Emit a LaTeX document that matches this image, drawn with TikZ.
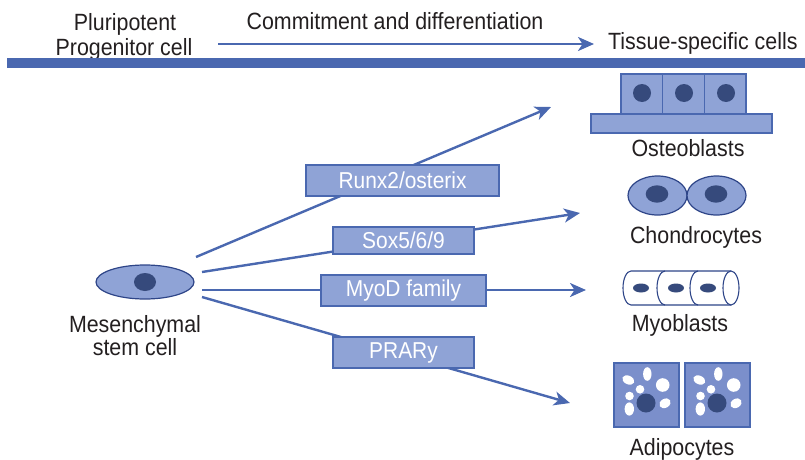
\documentclass[tikz,border=0pt]{standalone}
\usepackage{fontspec}
\setmainfont{Liberation Sans}[FakeStretch=0.91]
\usetikzlibrary{arrows.meta,shapes.geometric}

\definecolor{flowblue}{HTML}{4A68B0}
\definecolor{boxfill}{HTML}{8FA3D6}
\definecolor{cellfill}{HTML}{8FA3D6}
\definecolor{cellline}{HTML}{2E4588}
\definecolor{nucleus}{HTML}{364A7C}
\definecolor{fatfill}{HTML}{7B8FCB}
\definecolor{inktext}{HTML}{231F20}

\tikzset{
  flow/.style={draw=flowblue, line width=2.4pt,
    -{Stealth[length=16pt,width=14pt,inset=4.5pt]}},
  factor/.style={draw=flowblue, fill=boxfill, line width=1.2pt,
    text=white, inner sep=0pt, font=\fontsize{23}{24}\selectfont},
  caption/.style={text=inktext, inner sep=0pt, anchor=base,
    font=\fontsize{23.5}{22}\selectfont, align=center},
  nuc/.style={fill=nucleus, draw=none},
  adipo/.pic={
    \draw[fill=fatfill, draw=flowblue, line width=1.6pt] (0,0) rectangle (65,64);
    \fill[white] (14.3,17) ellipse [x radius=6.3, y radius=4.3, rotate=-25];
    \fill[white] (33.3,11) ellipse [x radius=4.2, y radius=6.8];
    \fill[white] (48.7,22) circle [radius=6.8];
    \fill[white] (26,26.3) circle [radius=4.3];
    \fill[white] (15.5,33) circle [radius=4.3];
    \fill[white] (15.3,46) ellipse [x radius=4.7, y radius=6.6];
    \fill[white] (51,40.3) ellipse [x radius=6, y radius=4.5, rotate=30];
    \fill[nuc] (32,40) circle [radius=9.5];
  }
}

\begin{document}
\begin{tikzpicture}[x=1pt, y=-1pt]
\useasboundingbox (0,0) rectangle (805,460);

% ---- header ----
\node[caption] (pluri) at (125,31) {Pluripotent};
\node[caption] (progen) at (124,55.5) {Progenitor cell};
\node[caption] (commit) at (395,30) {Commitment and differentiation};
\node[caption, anchor=base west] (tissue) at (608,50) {Tissue-specific cells};
\coordinate (hstart) at (218,44);
\coordinate (hend) at (594,44);
\draw[flow] (hstart) -- (hend);
\fill[flowblue] (7,58.5) rectangle (805,67.5);

% ---- mesenchymal stem cell ----
\node[ellipse, draw=cellline, fill=cellfill, line width=1.2pt,
      minimum width=98pt, minimum height=34pt, inner sep=0pt] (msc) at (145,282) {};
\fill[nuc] (msc.center) ellipse [x radius=11, y radius=9];
\node[caption] (mscl1) at (135,332) {Mesenchymal};
\node[caption] (mscl2) at (135,355) {stem cell};

% ---- lineage arrows ----
\coordinate (s1) at (196,257);
\coordinate (s2) at (202,272);
\coordinate (s3) at (202,290);
\coordinate (s4) at (202,297);
\coordinate (t1) at (551,107);
\coordinate (t2) at (580,213);
\coordinate (t3) at (586,290);
\coordinate (t4) at (570,403);
\draw[flow] (s1) -- (t1);
\draw[flow] (s2) -- (t2);
\draw[flow] (s3) -- (t3);
\draw[flow] (s4) -- (t4);

\node[factor, minimum width=193pt, minimum height=31pt] (runx) at (402.5,180.5) {Runx2/osterix};
\node[factor, minimum width=141pt, minimum height=27pt] (sox) at (403.5,240.5) {Sox5/6/9};
\node[factor, minimum width=165pt, minimum height=31pt] (myod) at (403.5,290.5) {MyoD family};
\node[factor, minimum width=141pt, minimum height=31pt] (ppar) at (403.5,352.5) {PRARy};

% ---- osteoblasts ----
\begin{scope}[draw=flowblue, fill=cellfill, line width=1.2pt]
  \filldraw (591,114) rectangle (772,133);
  \filldraw (621,74) rectangle (662.7,114);
  \filldraw (662.7,74) rectangle (704.3,114);
  \filldraw (704.3,74) rectangle (746,114);
\end{scope}
\fill[nuc] (642,93) circle [radius=9];
\fill[nuc] (684,93) circle [radius=9];
\fill[nuc] (726,93) circle [radius=9];
\node[caption] (osteo) at (688,156) {Osteoblasts};

% ---- chondrocytes ----
\filldraw[draw=cellline, fill=cellfill, line width=1.2pt]
  (657.5,195.5) ellipse [x radius=29.5, y radius=19.5];
\filldraw[draw=cellline, fill=cellfill, line width=1.2pt]
  (716.5,195.5) ellipse [x radius=29.5, y radius=19.5];
\fill[nuc] (657,194) ellipse [x radius=11.3, y radius=8.7];
\fill[nuc] (716,194) ellipse [x radius=11.3, y radius=8.7];
\node[caption] (chondro) at (696,243) {Chondrocytes};

% ---- myoblasts ----
\begin{scope}[draw=cellline, line width=1.1pt]
  \filldraw[fill=white] (731,271) -- (631,271)
    arc[start angle=270, end angle=90, x radius=8, y radius=17] -- (731,305);
  \draw (665,271) arc[start angle=270, end angle=90, x radius=8, y radius=17];
  \draw (698,271) arc[start angle=270, end angle=90, x radius=8, y radius=17];
  \filldraw[fill=white] (731,288) ellipse [x radius=8, y radius=17];
\end{scope}
\fill[nuc] (641,288) ellipse [x radius=8, y radius=4.5];
\fill[nuc] (676,288) ellipse [x radius=8, y radius=4.5];
\fill[nuc] (708,288) ellipse [x radius=8, y radius=4.5];
\node[caption] (myo) at (680,331) {Myoblasts};

% ---- adipocytes ----
\pic at (614,363) {adipo};
\pic at (685,363) {adipo};
\node[caption] (adipo) at (682,455) {Adipocytes};

\end{tikzpicture}
\end{document}
